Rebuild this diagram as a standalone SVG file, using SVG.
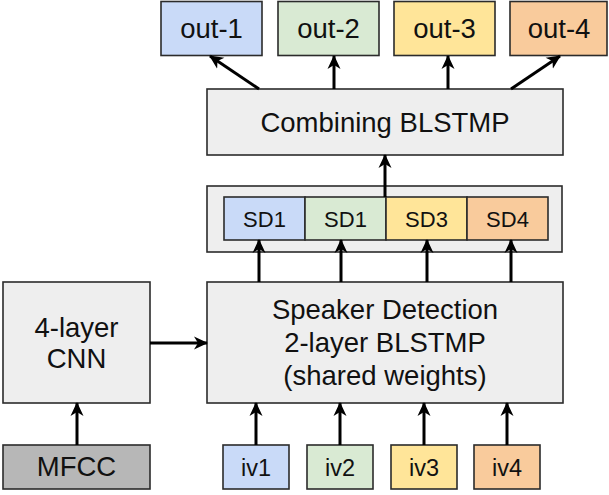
<svg xmlns="http://www.w3.org/2000/svg" width="609" height="495" viewBox="0 0 609 495">
<style>
.box{stroke:#2b2b2b;stroke-width:1.6}
.gray{fill:#eeeeee}
.dark{fill:#b7b7b7}
.blue{fill:#c9daf8}
.green{fill:#d9ead3}
.yellow{fill:#ffe599}
.orange{fill:#f9cb9c}
text{font-family:"Liberation Sans",Arial,sans-serif;fill:#111;text-anchor:middle}
.big{font-size:27.5px}
.sd{font-size:22px}
.iv{font-size:23.5px}
.conn line{stroke:#000;stroke-width:3;marker-end:url(#arr)}
</style>
<defs>
<marker id="arr" viewBox="0 0 14 14" refX="13" refY="7" markerWidth="14" markerHeight="14" markerUnits="userSpaceOnUse" orient="auto">
<path d="M0,0.5 L14,7 L0,13.5 L4,7 z" fill="#000"/>
</marker>
</defs>
<g id="out-1"><rect class="box blue" x="161" y="1.5" width="101" height="54"/><text class="big" x="211.5" y="38">out-1</text></g>
<g id="out-2"><rect class="box green" x="278" y="1.5" width="101" height="54"/><text class="big" x="328.5" y="38">out-2</text></g>
<g id="out-3"><rect class="box yellow" x="394" y="1.5" width="101" height="54"/><text class="big" x="444.5" y="38">out-3</text></g>
<g id="out-4"><rect class="box orange" x="510" y="1.5" width="97" height="54"/><text class="big" x="559" y="38">out-4</text></g>
<g id="combining"><rect class="box gray" x="207" y="89" width="356" height="66"/><text class="big" x="385" y="132">Combining BLSTMP</text></g>
<g id="sd-container"><rect class="box gray" x="207" y="186" width="355" height="66"/></g>
<g id="sd1a"><rect class="box blue" x="224" y="197" width="81" height="43"/><text class="sd" x="264.5" y="226.5">SD1</text></g>
<g id="sd1b"><rect class="box green" x="305" y="197" width="81" height="43"/><text class="sd" x="345.5" y="226.5">SD1</text></g>
<g id="sd3"><rect class="box yellow" x="386" y="197" width="81" height="43"/><text class="sd" x="426.5" y="226.5">SD3</text></g>
<g id="sd4"><rect class="box orange" x="467" y="197" width="81" height="43"/><text class="sd" x="507.5" y="226.5">SD4</text></g>
<g id="speaker"><rect class="box gray" x="207" y="282" width="356" height="121"/>
<text class="big" x="385" y="319">Speaker Detection</text>
<text class="big" x="385" y="352">2-layer BLSTMP</text>
<text class="big" x="385" y="385">(shared weights)</text></g>
<g id="cnn"><rect class="box gray" x="3" y="282" width="147" height="121"/>
<text class="big" x="76.5" y="337">4-layer</text>
<text class="big" x="76.5" y="368">CNN</text></g>
<g id="mfcc"><rect class="box dark" x="3" y="445" width="147" height="44"/><text class="big" x="76.5" y="476">MFCC</text></g>
<g id="iv1"><rect class="box blue" x="223" y="445" width="66" height="44"/><text class="iv" x="256" y="476">iv1</text></g>
<g id="iv2"><rect class="box green" x="307" y="445" width="66" height="44"/><text class="iv" x="340" y="476">iv2</text></g>
<g id="iv3"><rect class="box yellow" x="391" y="445" width="66" height="44"/><text class="iv" x="424" y="476">iv3</text></g>
<g id="iv4"><rect class="box orange" x="474" y="445" width="66" height="44"/><text class="iv" x="507" y="476">iv4</text></g>
<g class="conn" id="connectors">
<line x1="259" y1="89" x2="210" y2="56"/>
<line x1="334" y1="89" x2="334" y2="56"/>
<line x1="448" y1="89" x2="448" y2="56"/>
<line x1="511" y1="89" x2="560" y2="56"/>
<line x1="385" y1="197" x2="385" y2="155"/>
<line x1="259" y1="282" x2="259" y2="240"/>
<line x1="341" y1="282" x2="341" y2="240"/>
<line x1="427" y1="282" x2="427" y2="240"/>
<line x1="511" y1="282" x2="511" y2="240"/>
<line x1="256" y1="445" x2="256" y2="403"/>
<line x1="340" y1="445" x2="340" y2="403"/>
<line x1="424" y1="445" x2="424" y2="403"/>
<line x1="507" y1="445" x2="507" y2="403"/>
<line x1="77" y1="445" x2="77" y2="403"/>
<line x1="150" y1="343" x2="207" y2="343"/>
</g>
</svg>
